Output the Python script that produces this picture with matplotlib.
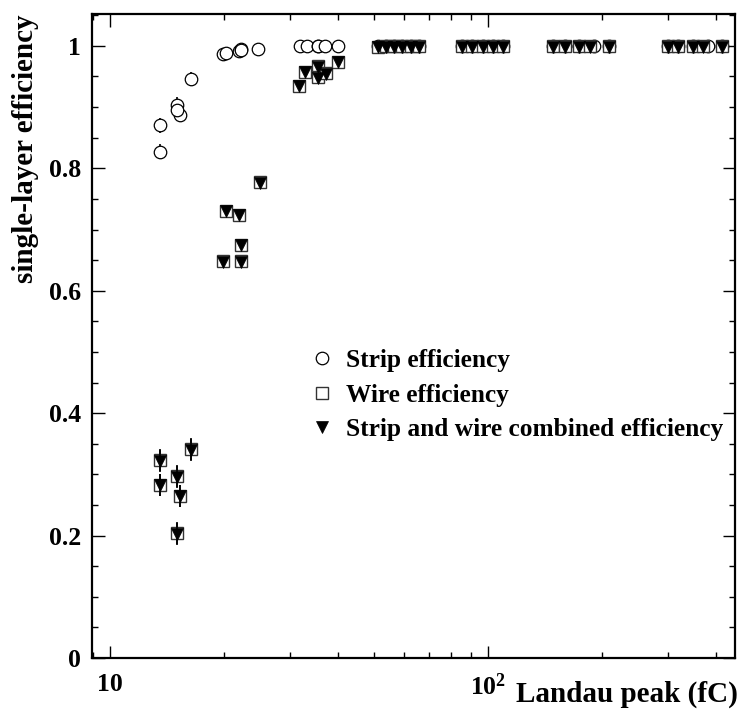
import matplotlib
matplotlib.use("Agg")
from matplotlib import pyplot as plt
from matplotlib.ticker import FixedLocator, MultipleLocator, LogLocator, NullFormatter

plt.rcParams['font.family'] = ['Liberation Serif', 'DejaVu Serif']
plt.rcParams['font.weight'] = 'bold'
plt.rcParams['mathtext.fontset'] = 'custom'
plt.rcParams['mathtext.rm'] = 'Liberation Serif:bold'
plt.rcParams['mathtext.bf'] = 'Liberation Serif:bold'

# Landau peak positions (fC) for each run
landau = [13.55, 13.55, 15.0, 15.3, 15.0, 16.4,
          19.9, 20.3, 21.9, 22.2, 22.2, 24.9,
          31.6, 32.8, 35.6, 35.6, 37.3, 40.2,
          51.2, 53.7, 56.4, 59.1, 62.5, 65.6,
          85.3, 90.7, 97.0, 103.2, 109.6,
          148.7, 159.9, 174.0, 186.3, 208.9,
          299.0, 318.0, 349.0, 371.0, 416.0]
landau_strip = [13.55, 13.55, 15.0, 15.3, 15.0, 16.4,
                19.9, 20.3, 21.9, 22.2, 22.2, 24.7,
                31.8, 33.1, 35.6, 35.6, 37.0, 40.2,
                51.2, 53.7, 56.4, 59.1, 62.5, 65.6,
                85.3, 90.7, 97.0, 103.2, 109.6,
                148.7, 159.9, 174.0, 190.7, 208.9,
                299.0, 318.0, 349.0, 382.0, 416.0]

strip_eff = [0.870, 0.827, 0.904, 0.887, 0.895, 0.946,
             0.986, 0.989, 0.992, 0.995, 0.993, 0.995,
             1.000, 1.000, 1.000, 1.000, 1.000, 1.000,
             1.000, 1.000, 1.000, 1.000, 1.000, 1.000,
             1.000, 1.000, 1.000, 1.000, 1.000,
             1.000, 1.000, 1.000, 1.000, 1.000,
             1.000, 1.000, 1.000, 1.000, 1.000]
strip_err = [0.012] * 6 + [0.003] * 33

wire_eff = [0.3235, 0.283, 0.297, 0.265, 0.204, 0.341,
            0.648, 0.731, 0.724, 0.675, 0.648, 0.777,
            0.935, 0.958, 0.967, 0.949, 0.955, 0.974,
            0.998, 0.999, 0.999, 0.999, 0.999, 0.999,
            0.999, 0.999, 0.999, 0.999, 0.999,
            0.999, 0.999, 0.999, 0.999, 0.999,
            0.999, 0.999, 0.999, 0.999, 0.999]
wire_err = [0.018] * 6 + [0.006] * 6 + [0.004] * 6 + [0.001] * 21

comb_eff = [0.322, 0.282, 0.296, 0.264, 0.203, 0.340,
            0.647, 0.730, 0.723, 0.674, 0.647, 0.776,
            0.934, 0.957, 0.966, 0.948, 0.954, 0.973,
            0.998, 0.998, 0.998, 0.998, 0.998, 0.998,
            0.998, 0.998, 0.998, 0.998, 0.998,
            0.998, 0.998, 0.998, 0.998, 0.998,
            0.998, 0.998, 0.998, 0.998, 0.998]
comb_err = wire_err

fig = plt.figure(figsize=(7.43, 7.16), dpi=100)
ax = fig.add_axes([0.1238, 0.081, 0.8654, 0.8994])

ax.errorbar(landau_strip, strip_eff, yerr=strip_err, fmt='o', ms=9,
            mfc='white', mec='black', mew=0.9, ecolor='black', elinewidth=1.2,
            capsize=0, label='Strip efficiency', zorder=3)
ax.errorbar(landau, wire_eff, yerr=wire_err, fmt='s', ms=9,
            mfc='white', mec='#333333', mew=1.0, ecolor='black', elinewidth=1.2,
            capsize=0, label='Wire efficiency', zorder=4)
ax.errorbar(landau, comb_eff, yerr=comb_err, fmt='v', ms=8.5,
            mfc='black', mec='black', mew=0.5, ecolor='black', elinewidth=1.2,
            capsize=0, label='Strip and wire combined efficiency', zorder=5)

ax.set_xscale('log')
ax.set_xlim(8.96, 450)
ax.set_ylim(0, 1.052)

ax.xaxis.set_major_locator(FixedLocator([10, 100]))
ax.set_xticklabels(['10', r'$\mathbf{10^{2}}$'])
ax.xaxis.set_minor_locator(LogLocator(base=10, subs=range(2, 10)))
ax.xaxis.set_minor_formatter(NullFormatter())

ax.yaxis.set_major_locator(FixedLocator([0, 0.2, 0.4, 0.6, 0.8, 1.0]))
ax.set_yticklabels(['0', '0.2', '0.4', '0.6', '0.8', '1'])
ax.yaxis.set_minor_locator(MultipleLocator(0.05))

ax.tick_params(which='both', direction='in', top=True, right=True, width=1.0)
ax.tick_params(which='major', length=9, labelsize=18.5)
ax.tick_params(which='minor', length=4.5)
ax.tick_params(axis='x', which='major', pad=11)
ax.tick_params(axis='y', which='major', pad=8)
for s in ax.spines.values():
    s.set_linewidth(1.6)

ax.set_xlabel('Landau peak (fC)', fontsize=21, fontweight='bold', ha='right')
ax.xaxis.set_label_coords(1.005, -0.035)
ax.set_ylabel('single-layer efficiency', fontsize=21, fontweight='bold', ha='right')
ax.yaxis.set_label_coords(-0.082, 1.0)

handles, labels = ax.get_legend_handles_labels()
handles = [h[0] for h in handles]
ax.legend(handles, labels, loc='upper left', bbox_to_anchor=(0.326, 0.4953),
          frameon=False, fontsize=18.3, handlelength=0.8, handletextpad=0.55,
          labelspacing=0.45, borderaxespad=0)

fig.savefig('out.png', dpi=100)
